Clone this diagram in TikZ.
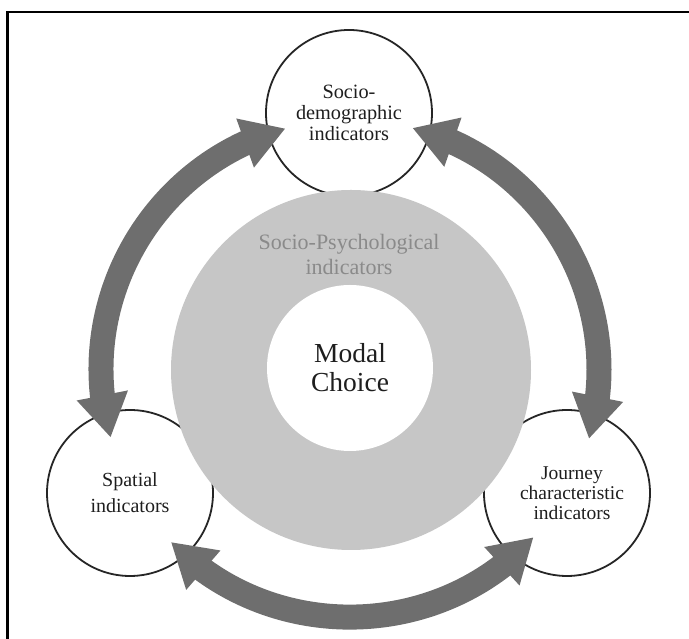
\documentclass[tikz,border=0pt]{standalone}
\usepackage{fontspec}
\setmainfont{Liberation Serif}
\usetikzlibrary{arrows.meta,bending,calc}
\definecolor{arrowgray}{HTML}{6E6E6E}
\definecolor{ringgray}{HTML}{C6C6C6}
\definecolor{labelgray}{HTML}{8A8A8A}
\definecolor{inkgray}{HTML}{1E1E1E}
\begin{document}
\begin{tikzpicture}[x=1pt,y=1pt,
  smallcirc/.style={circle, draw=black!85, line width=1.8pt, fill=white, minimum size=166pt, inner sep=0pt, align=center, text=inkgray},
  bigarrow/.style={draw=arrowgray, line width=25pt,
    {Triangle[width=49pt,length=43pt,fill=arrowgray]}-{Triangle[width=49pt,length=43pt,fill=arrowgray]}},
]
\useasboundingbox (0,0) rectangle (689,639);
\draw[line width=2.5pt] (7.5,0) -- (7.5,627) -- (689,627);
\coordinate (C) at (350,270);
% outer indicator circles
\node[smallcirc, font=\fontsize{20.3}{21}\selectfont] (socdem) at (349,526) {Socio-\\demographic\\indicators};
\node[smallcirc, font=\fontsize{20}{26}\selectfont] (spatial) at (130,146) {Spatial\\indicators};
\node[smallcirc] (journey) at (567,146) {};
\node[align=center, text=inkgray, inner sep=0pt, font=\fontsize{19.5}{20}\selectfont] (journeytext) at (572,146) {Journey\\characteristic\\indicators};
% central rings
\node[circle, fill=ringgray, minimum size=360pt, inner sep=0pt] (psych) at (351,269) {};
\node[circle, fill=white, minimum size=166pt, inner sep=0pt, align=center, text=inkgray,
      font=\fontsize{27.5}{29}\selectfont] (modal) at (350,271) {Modal\\Choice};
\node[align=center, text=labelgray, font=\fontsize{22}{25}\selectfont] (psychlabel) at (349,384.5) {Socio-Psychological\\indicators};
% arrow end points
\coordinate (a1) at ($(C)+(105:249)$);
\coordinate (a2) at ($(C)+(196:249)$);
\coordinate (b1) at ($(C)+(75.5:249)$);
\coordinate (b2) at ($(C)+(-16.3:249)$);
\coordinate (c1) at ($(C)+(224:249)$);
\coordinate (c2) at ($(C)+(317.5:249)$);
\draw[bigarrow] (a1) to[bend right=45.5] (a2);
\draw[bigarrow] (b1) to[bend left=46] (b2);
\draw[bigarrow] (c1) to[bend right=46.7] (c2);
\end{tikzpicture}
\end{document}
